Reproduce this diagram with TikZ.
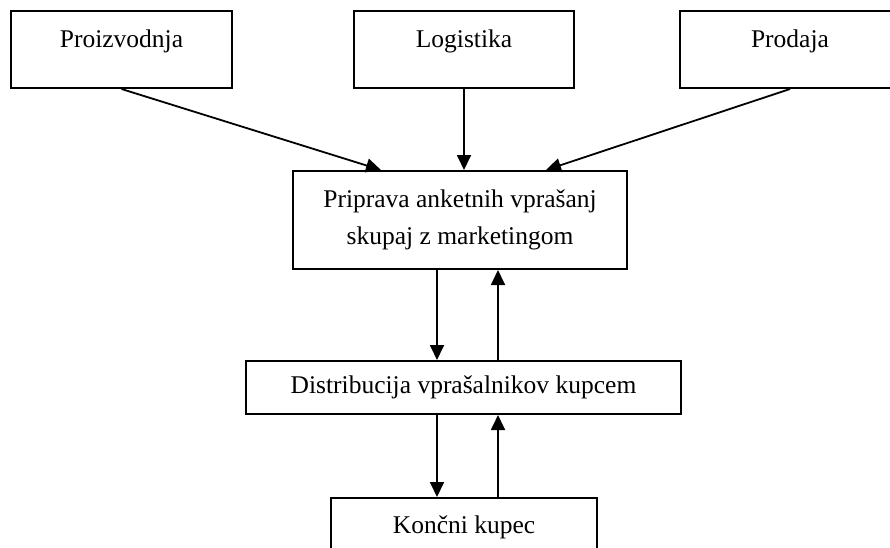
\documentclass[tikz,border=0pt]{standalone}
\usepackage{fontspec}
\setmainfont{Liberation Serif}
\usetikzlibrary{arrows.meta, positioning}

\begin{document}
\begin{tikzpicture}[x=1pt, y=1pt,
                dept/.style={draw, line width=2pt, inner sep=0pt, anchor=north west,
                             font=\fontsize{25.5}{37}\selectfont, align=center},
                flow/.style={-{Triangle[length=15pt, width=14pt]}, line width=1.8pt}]

                \useasboundingbox (0,0) rectangle (890,-547);

                % Departments - top row
                \node[dept, minimum width=221pt, text height=36pt, text depth=41pt] (proiz) at (10,-10) {Proizvodnja};
                \node[dept, minimum width=220pt, text height=36pt, text depth=41pt] (logis) at (353,-10) {Logistika};
                \node[dept, minimum width=220pt, text height=36pt, text depth=41pt] (prod) at (679,-10) {Prodaja};

                % Process chain
                \node[dept, minimum width=334pt, minimum height=98pt] (prip) at (292,-170)
                    {Priprava anketnih vprašanj\\skupaj z marketingom};
                \node[dept, minimum width=435pt, minimum height=53pt] (distr) at (245,-360)
                    {Distribucija vprašalnikov kupcem};
                \node[dept, minimum width=266pt, text height=35pt, text depth=45pt] (kupec) at (330,-497)
                    {Končni kupec};

                % Inputs into the questionnaire
                \draw[flow] (proiz.south) -- ([xshift=-79pt]prip.north);
                \draw[flow] (logis.south) -- (logis.south |- prip.north);
                \draw[flow] (prod.south) -- ([xshift=86pt]prip.north);

                % Down and back up
                \draw[flow] ([xshift=-23pt]prip.south) -- ([xshift=-23pt]prip.south |- distr.north);
                \draw[flow] ([xshift=38pt]prip.south |- distr.north) -- ([xshift=38pt]prip.south);
                \draw[flow] ([xshift=-23pt]prip.south |- distr.south) -- ([xshift=-23pt]prip.south |- kupec.north);
                \draw[flow] ([xshift=38pt]prip.south |- kupec.north) -- ([xshift=38pt]prip.south |- distr.south);
            \end{tikzpicture}
\end{document}
